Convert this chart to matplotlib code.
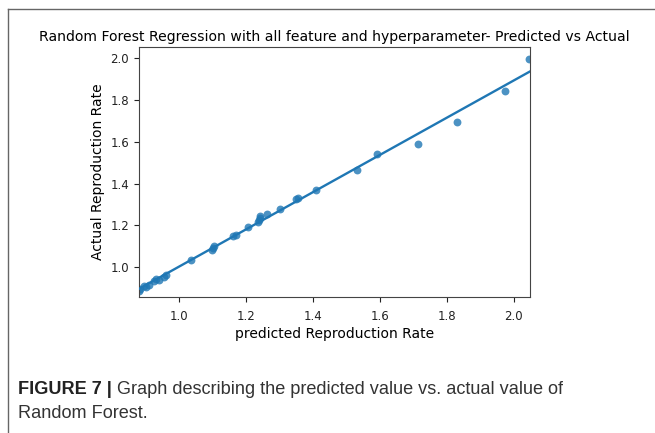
import numpy as np
import matplotlib
matplotlib.use("Agg")
import matplotlib.pyplot as plt
from matplotlib.lines import Line2D

# Data (predicted vs actual)
predicted = [0.879, 0.882, 0.894, 0.900, 0.909, 0.924, 0.932, 0.940, 0.955, 0.962,
             1.035, 1.097, 1.100, 1.104, 1.161, 1.170, 1.206, 1.235, 1.237, 1.240,
             1.242, 1.261, 1.300, 1.348, 1.354, 1.409, 1.530, 1.590, 1.713, 1.831,
             1.974, 2.046]
actual = [0.885, 0.895, 0.910, 0.905, 0.915, 0.936, 0.943, 0.940, 0.953, 0.963,
          1.032, 1.080, 1.090, 1.100, 1.150, 1.155, 1.191, 1.215, 1.225, 1.245,
          1.235, 1.255, 1.279, 1.325, 1.330, 1.368, 1.466, 1.542, 1.591, 1.694,
          1.845, 1.995]
x_ticks = [1.0, 1.2, 1.4, 1.6, 1.8, 2.0]
y_ticks = [1.0, 1.2, 1.4, 1.6, 1.8, 2.0]

title = "Random Forest Regression with all feature and hyperparameter- Predicted vs Actual"
xlabel = "predicted Reproduction Rate"
ylabel = "Actual Reproduction Rate"
cap_bold = "FIGURE 7 |"
cap_line1 = "Graph describing the predicted value vs. actual value of"
cap_line2 = "Random Forest."

W, H = 655, 433
fig = plt.figure(figsize=(W / 100, H / 100), dpi=100)
fig.patch.set_facecolor("white")

ax = fig.add_axes([138.7 / W, 1 - 297 / H, (530 - 138.7) / W, (297 - 47) / H])

x = np.array(predicted)
y = np.array(actual)
ax.scatter(x, y, s=32, color="#1f77b4", alpha=0.8, linewidths=0, zorder=2, clip_on=True)

xlim = (0.879, 2.048)
coef = np.polyfit(x, y, 1)
xx = np.linspace(xlim[0], xlim[1], 100)
ax.plot(xx, np.polyval(coef, xx), color="#1f77b4", lw=1.7, zorder=3)

ax.set_xlim(*xlim)
ax.set_ylim(0.857, 2.054)
ax.set_xticks(x_ticks)
ax.set_yticks(y_ticks)
ax.set_xticklabels([f"{v:.1f}" for v in x_ticks])
ax.set_yticklabels([f"{v:.1f}" for v in y_ticks])
ax.tick_params(labelsize=8.5, colors="#222222", length=3.5)
ax.tick_params(axis="x", pad=5.5)
for sp in ax.spines.values():
    sp.set_color("#444444")

ax.set_title(title, fontsize=10.1, pad=4)
ax.set_xlabel(xlabel, fontsize=10, labelpad=3)
ax.set_ylabel(ylabel, fontsize=10, labelpad=4)

# Outer frame (left and top borders)
fig.add_artist(Line2D([8 / W, 8 / W], [0, 1 - 9 / H], transform=fig.transFigure,
                      color="#666666", lw=1.0))
fig.add_artist(Line2D([8 / W, 1], [1 - 9 / H, 1 - 9 / H], transform=fig.transFigure,
                      color="#666666", lw=1.0))

# Caption
cap_font = ["Liberation Sans", "DejaVu Sans"]
tb = fig.text(18 / W, 1 - 398 / H, cap_bold, fontsize=13.1, fontweight="bold",
              family=cap_font, color="#222222", va="bottom", ha="left")
ax.annotate(" " + cap_line1, xy=(1, 0), xycoords=tb, va="bottom", ha="left",
            fontsize=13.1, family=cap_font, color="#333333", annotation_clip=False)
fig.text(18 / W, 1 - 422 / H, cap_line2, fontsize=13.1, family=cap_font,
         color="#333333", va="bottom", ha="left")

fig.savefig("out.png", dpi=100)
